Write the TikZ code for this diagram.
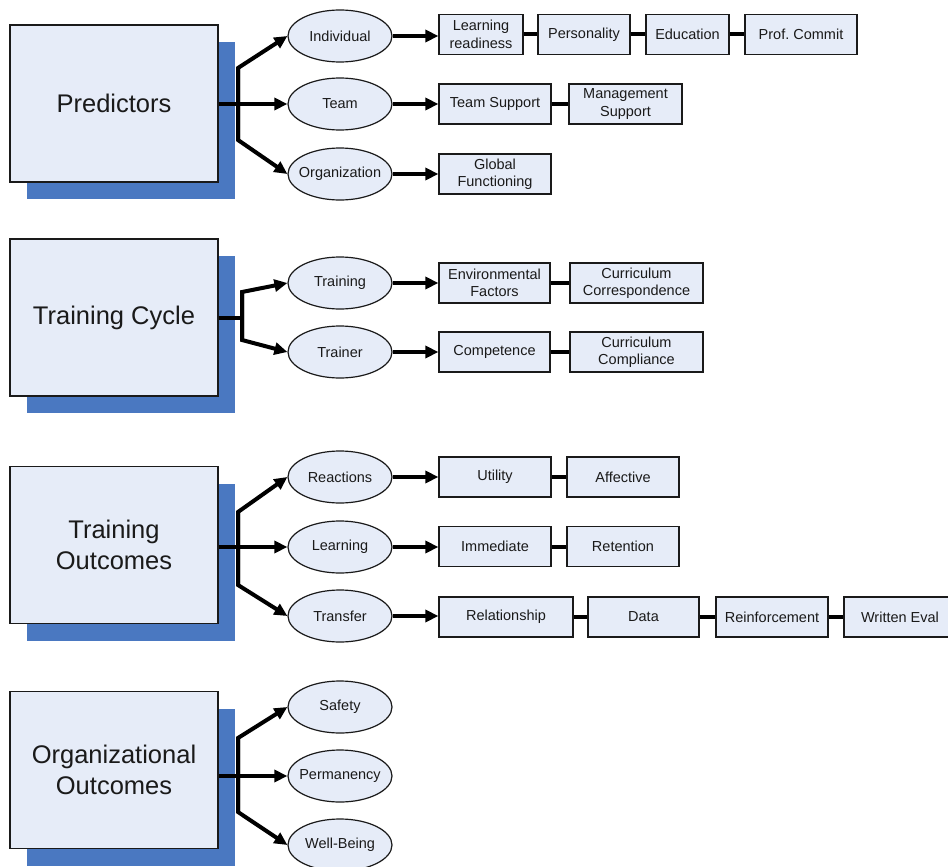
\documentclass[tikz,border=0pt]{standalone}
\usepackage{fontspec}
\setmainfont{Liberation Sans}
\usetikzlibrary{arrows.meta,shapes.geometric,shadows,calc}
\definecolor{boxfill}{HTML}{E6ECF8}
\definecolor{shadowblue}{HTML}{4A78C1}
\definecolor{ink}{HTML}{1A1A1A}
\begin{document}
\begin{tikzpicture}[x=1pt,y=-1pt,
  bigbox/.style={draw=ink, line width=1.3pt, fill=boxfill, minimum width=208pt, minimum height=157pt,
    align=center, inner sep=0pt, text=ink, font=\fontsize{25.5}{31}\selectfont,
    drop shadow={shadow xshift=17pt, shadow yshift=-17pt, fill=shadowblue, opacity=1}},
  ell/.style={ellipse, draw=ink, line width=1.2pt, fill=boxfill, minimum width=104pt, minimum height=52pt,
    inner xsep=-20pt, inner ysep=0pt, text=ink, font=\fontsize{14.5}{17.5}\selectfont},
  sbox/.style={rectangle, draw=ink, line width=1.2pt, fill=boxfill, minimum height=40pt, inner sep=0pt,
    align=center, text=ink, font=\fontsize{14.5}{17.5}\selectfont, minimum width=#1},
  conn/.style={line width=4pt, black},
  arr/.style={conn, -{Triangle[length=13pt,width=12pt]}}
]
\useasboundingbox (0,0) rectangle (948,867);
\clip (0,0) rectangle (948,867);

% big boxes
\node[bigbox] (P)  at (114,103.5) {Predictors};
\node[bigbox] (TC) at (114,317.5) {Training Cycle};
\node[bigbox] (TO) at (114,545)   {Training\\Outcomes};
\node[bigbox] (OO) at (114,770)   {Organizational\\Outcomes};

% ellipses
\node[ell] (Ind)  at (340,36)  {Individual};
\node[ell] (Team) at (340,104) {Team};
\node[ell] (Org)  at (340,174) {Organization};
\node[ell] (Trn)  at (340,283) {Training};
\node[ell] (Trnr) at (340,352) {Trainer};
\node[ell] (Rea)  at (340,477) {Reactions};
\node[ell] (Lea)  at (340,547) {Learning};
\node[ell] (Tra)  at (340,616) {Transfer};
\node[ell] (Saf)  at (340,707) {Safety};
\node[ell] (Per)  at (340,776) {Permanency};
\node[ell] (Wel)  at (340,845) {Well-Being};

% small boxes
\node[sbox=84pt]  (LR)   at (481,34.5)  {Learning\\readiness};
\node[sbox=92pt]  (Pers) at (584,34.5)  {Personality};
\node[sbox=83pt]  (Edu)  at (687.5,34.5){Education};
\node[sbox=112pt] (Prof) at (801,34.5)  {Prof.\ Commit};
\node[sbox=112pt] (TS)   at (495,104)   {Team Support};
\node[sbox=113pt] (MS)   at (625.5,104) {Management\\Support};
\node[sbox=112pt] (GF)   at (495,174)   {Global\\Functioning};
\node[sbox=111pt] (EF)   at (494.5,283) {Environmental\\Factors};
\node[sbox=133pt] (CC)   at (636.5,283) {Curriculum\\Correspondence};
\node[sbox=111pt] (Comp) at (494.5,352) {Competence};
\node[sbox=133pt] (CCo)  at (636.5,352) {Curriculum\\Compliance};
\node[sbox=112pt] (Util) at (495,477)   {Utility};
\node[sbox=112pt] (Aff)  at (623,477)   {Affective};
\node[sbox=112pt] (Imm)  at (495,546.5) {Immediate};
\node[sbox=112pt] (Ret)  at (623,546.5) {Retention};
\node[sbox=134pt] (Rel)  at (506,617)   {Relationship};
\node[sbox=111pt] (Data) at (643.5,617) {Data};
\node[sbox=112pt] (Reinf) at (772,617)  {Reinforcement};
\node[sbox=124pt] (WE)   at (906,617)   {\hspace*{-12pt}Written Eval};

% branch coordinates
\coordinate (Pb1) at (238,68);  \coordinate (Pb2) at (238,140);
\coordinate (Tb)  at (242,317.5);
\coordinate (Tb1) at (242,292); \coordinate (Tb2) at (242,340);
\coordinate (Ob1) at (238,512); \coordinate (Ob2) at (238,585);
\coordinate (Gb1) at (238,738); \coordinate (Gb2) at (238,812);

% Predictors tree
\draw[arr] (Team.west -| P.east) -- (Team.west);
\draw[arr] (Pb2) -- (Pb1) -- (Ind.west);
\draw[arr] (Pb1) -- (Pb2) -- (Org.west);

% Training cycle tree
\draw[conn] (TC.east) -- (Tb);
\draw[arr] (Tb2) -- (Tb1) -- (Trn.west);
\draw[arr] (Tb1) -- (Tb2) -- (Trnr.west);

% Training outcomes tree
\draw[arr] (Lea.west -| TO.east) -- (Lea.west);
\draw[arr] (Ob2) -- (Ob1) -- (Rea.west);
\draw[arr] (Ob1) -- (Ob2) -- (Tra.west);

% Organizational outcomes tree
\draw[arr] (Per.west -| OO.east) -- (Per.west);
\draw[arr] (Gb2) -- (Gb1) -- (Saf.west);
\draw[arr] (Gb1) -- (Gb2) -- (Wel.west);

% ellipse to first box
\draw[arr] (Ind.east)  -- (Ind.east -| LR.west);
\draw[arr] (Team.east) -- (Team.east -| TS.west);
\draw[arr] (Org.east)  -- (Org.east -| GF.west);
\draw[arr] (Trn.east)  -- (Trn.east -| EF.west);
\draw[arr] (Trnr.east) -- (Trnr.east -| Comp.west);
\draw[arr] (Rea.east)  -- (Rea.east -| Util.west);
\draw[arr] (Lea.east)  -- (Lea.east -| Imm.west);
\draw[arr] (Tra.east)  -- (Tra.east -| Rel.west);

% chains
\draw[conn] (LR) -- (Pers);
\draw[conn] (Pers) -- (Edu);
\draw[conn] (Edu) -- (Prof);
\draw[conn] (TS) -- (MS);
\draw[conn] (EF) -- (CC);
\draw[conn] (Comp) -- (CCo);
\draw[conn] (Util) -- (Aff);
\draw[conn] (Imm) -- (Ret);
\draw[conn] (Rel) -- (Data);
\draw[conn] (Data) -- (Reinf);
\draw[conn] (Reinf) -- (WE);
\end{tikzpicture}
\end{document}
